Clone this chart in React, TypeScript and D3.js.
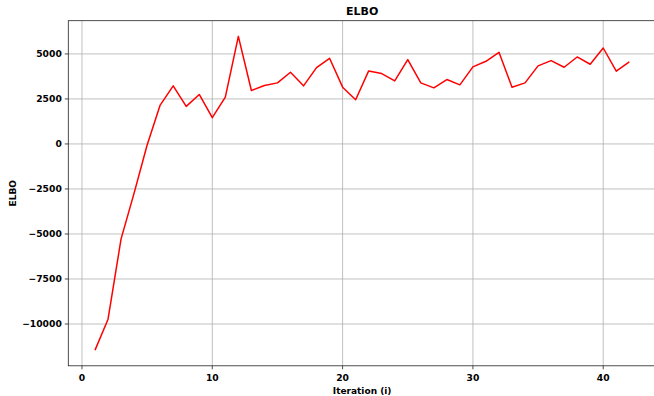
import React from "react";
import * as d3 from "d3";

const iterations: number[] = Array.from({ length: 42 }, (_, i) => i + 1);
const elbo: number[] = [
  -11450, -9735, -5272, -2730, -55, 2157, 3226, 2085, 2749, 1456,
  2600, 5973, 2968, 3245, 3392, 3982, 3226, 4240, 4757, 3153,
  2452, 4056, 3908, 3503, 4683, 3392, 3116, 3577, 3282, 4277,
  4590, 5088, 3153, 3392, 4333, 4627, 4259, 4830, 4425, 5328,
  4038, 4553,
];
const xTicks: number[] = [0, 10, 20, 30, 40];
const yTicks: number[] = [-10000, -7500, -5000, -2500, 0, 2500, 5000];
const title = "ELBO";
const xLabel = "Iteration (i)";
const yLabel = "ELBO";

const W = 654;
const H = 396;
const left = 68.3;
const right = 656;
const top = 20.7;
const bottom = 365.8;
const FONT = "DejaVu Sans, sans-serif";

export default function App() {
  const xMin = d3.min(iterations)!;
  const xMax = d3.max(iterations)!;
  const xPad = (xMax - xMin) * 0.05;
  const yMin = d3.min(elbo)!;
  const yMax = d3.max(elbo)!;
  const yPad = (yMax - yMin) * 0.05;

  const x = d3.scaleLinear().domain([xMin - xPad, xMax + xPad]).range([left, right]);
  const y = d3.scaleLinear().domain([yMin - yPad, yMax + yPad]).range([bottom, top]);

  const line = d3
    .line<number>()
    .x((_, i) => x(iterations[i]))
    .y((d) => y(d));

  const fmt = (v: number) => (v < 0 ? "\u2212" + Math.abs(v) : String(v));

  return (
    <svg
      width={W}
      height={H}
      style={{ position: "fixed", left: 0, top: 0, background: "#fff" }}
      fontFamily={FONT}
    >
      <rect x={0} y={0} width={W} height={H} fill="#fff" />
      {/* grid */}
      {xTicks.map((t) => (
        <line key={"gx" + t} x1={x(t)} x2={x(t)} y1={top} y2={bottom} stroke="#b0b0b0" strokeWidth={0.8} />
      ))}
      {yTicks.map((t) => (
        <line key={"gy" + t} x1={left} x2={right} y1={y(t)} y2={y(t)} stroke="#b0b0b0" strokeWidth={0.8} />
      ))}
      {/* data line */}
      <path d={line(elbo) ?? ""} fill="none" stroke="#ff0000" strokeWidth={1.5} strokeLinejoin="round" />
      {/* spines */}
      <rect x={left} y={top} width={right - left} height={bottom - top} fill="none" stroke="#222" strokeWidth={0.8} />
      {/* x ticks */}
      {xTicks.map((t) => (
        <g key={"tx" + t}>
          <line x1={x(t)} x2={x(t)} y1={bottom} y2={bottom + 3.5} stroke="#222" strokeWidth={0.8} />
          <text x={x(t)} y={bottom + 14.8} textAnchor="middle" fontSize={9.2} fontWeight="bold" fill="#000">
            {fmt(t)}
          </text>
        </g>
      ))}
      {/* y ticks */}
      {yTicks.map((t) => (
        <g key={"ty" + t}>
          <line x1={left - 3.5} x2={left} y1={y(t)} y2={y(t)} stroke="#222" strokeWidth={0.8} />
          <text x={left - 6.5} y={y(t)} dy="0.35em" textAnchor="end" fontSize={9.2} fontWeight="bold" fill="#000">
            {fmt(t)}
          </text>
        </g>
      ))}
      {/* title & labels */}
      <text x={(left + right) / 2} y={14.5} textAnchor="middle" fontSize={11} fontWeight="bold" fill="#000">
        {title}
      </text>
      <text x={(left + right) / 2} y={394} textAnchor="middle" fontSize={9} fontWeight="bold" fill="#000">
        {xLabel}
      </text>
      <text
        transform={`translate(15.5, ${(top + bottom) / 2}) rotate(-90)`}
        textAnchor="middle"
        fontSize={9}
        fontWeight="bold"
        fill="#000"
      >
        {yLabel}
      </text>
    </svg>
  );
}
